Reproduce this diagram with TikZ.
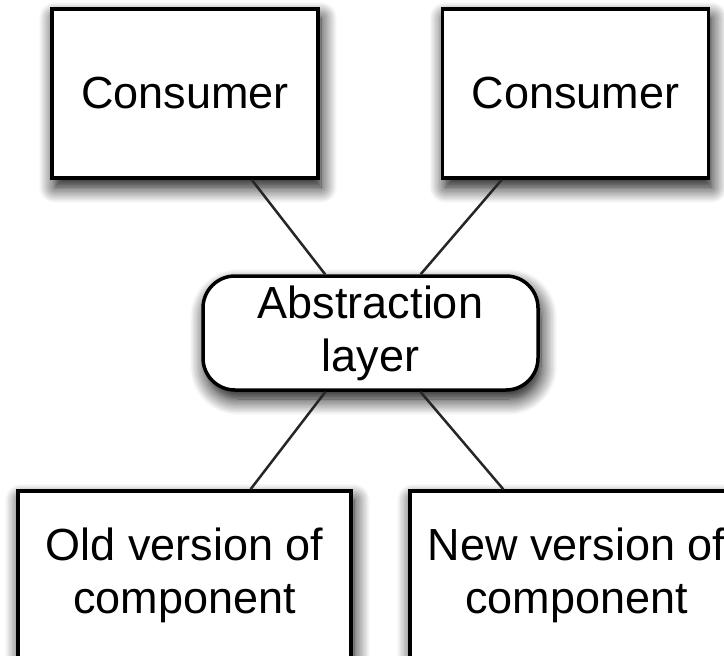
\documentclass[tikz,border=0pt]{standalone}
\usepackage{fontspec}
\setmainfont{Liberation Sans}
\usetikzlibrary{shadows.blur}
\begin{document}
\begin{tikzpicture}[x=1pt,y=-1pt,
  shade box/.style={draw=black, line width=3.5pt, fill=white, align=center,
    font=\fontsize{45}{53}\selectfont, inner sep=0pt,
    blur shadow={shadow xshift=3pt, shadow yshift=-9pt, shadow blur radius=16pt,
      shadow blur steps=12, shadow opacity=100}},
  unitbox/.style={shade box, minimum width=266pt, minimum height=169pt},
  layerbox/.style={shade box, rounded corners=32pt, minimum width=335pt, minimum height=114pt},
  link/.style={draw=black!85, line width=2.5pt}]
  \useasboundingbox (0,0) rectangle (724,656);
  \clip (0,0) rectangle (724,656);

  % components
  \node[unitbox] (c1) at (185,93.5) {Consumer};
  \node[unitbox] (c2) at (575.5,93.5) {Consumer};
  \node[layerbox] (abs) at (370.5,333) {Abstraction\\layer};
  \node[unitbox, minimum width=333pt] (old) at (184.5,575.5) {Old version of\\component};
  \node[unitbox, minimum width=333pt] (new) at (576.5,575.5) {New version of\\component};

  % connectors between the layer and its neighbours
  \draw[link] (c1) -- (abs);
  \draw[link] (c2) -- (abs);
  \draw[link] (abs) -- (old);
  \draw[link] (abs) -- (new);
\end{tikzpicture}
\end{document}
